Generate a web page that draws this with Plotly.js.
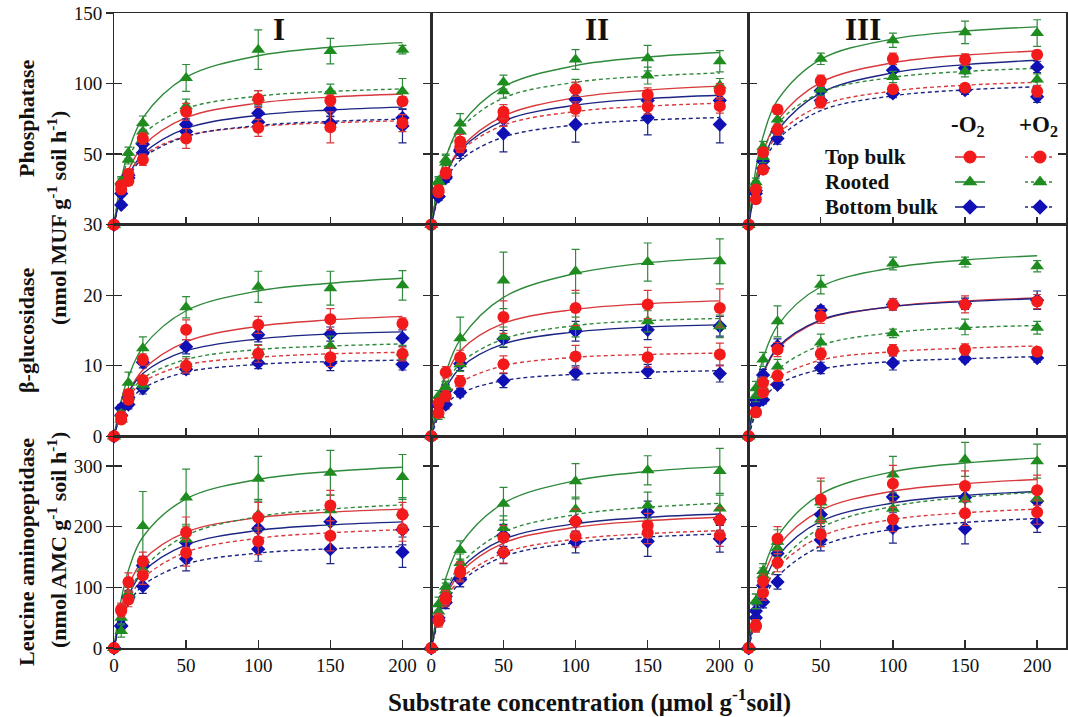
<!DOCTYPE html>
<html>
<head>
<meta charset="utf-8">
<script src="https://cdn.plot.ly/plotly-3.0.1.min.js"></script>
<style>
  html, body { margin: 0; padding: 0; background: #fff; }
  #chart { width: 1068px; height: 717px; }
</style>
</head>
<body>
<div id="chart"></div>
<script>
// Substrate concentrations (µmol g-1 soil)
const conc = [0, 5, 10, 20, 50, 100, 150, 200];
const sites = ['I', 'II', 'III'];
const groups = ['Top bulk', 'Rooted', 'Bottom bulk'];
const treatments = ['-O2', '+O2'];
const xTicks = [0, 50, 100, 150, 200];
const yTicksPho = [0, 50, 100, 150];
const yTicksGlu = [0, 10, 20, 30];
const yTicksLeu = [0, 100, 200, 300];

// Row order in every block: Top bulk -O2, Rooted -O2, Bottom bulk -O2,
//                           Top bulk +O2, Rooted +O2, Bottom bulk +O2

// ---- Phosphatase, site I ----
const phoI_mean = [
  [0, 28, 36, 61, 80, 89, 88, 87.5],
  [0, 31, 51, 72, 104, 124, 123, 124],
  [0, 14, 35, 57, 71, 79, 81.6, 75.7],
  [0, 25, 31, 46, 61, 68.6, 69, 72],
  [0, 30, 46, 66, 84, 90, 94.6, 94.6],
  [0, 22, 33, 51, 66, 72.6, 72, 70]
];
const phoI_sd = [
  [0, 3, 3, 4, 6, 6, 4, 3],
  [0, 3, 4, 5, 9.5, 14, 9, 3],
  [0, 2, 3, 4, 4, 5, 5, 6],
  [0, 3, 3, 4, 7, 6, 11, 6],
  [0, 3, 3, 4, 5, 5, 5, 9],
  [0, 2, 3, 3, 5, 6, 5, 12]
];
const phoI_fit = [
  [0, 23.8, 38.5, 55.6, 75.8, 86.2, 90.4, 92.6],
  [0, 31.8, 51.9, 75.7, 104.5, 119.7, 125.7, 129.0],
  [0, 21.4, 34.6, 50.0, 68.2, 77.6, 81.3, 83.3],
  [0, 22.9, 35.5, 48.8, 62.9, 69.6, 72.2, 73.6],
  [0, 30.0, 46.4, 63.8, 82.3, 91.1, 94.4, 96.2],
  [0, 21.1, 33.3, 47.1, 62.5, 70.2, 73.2, 74.8]
];

// ---- Phosphatase, site II ----
const phoII_mean = [
  [0, 24.5, 37, 59, 80, 96, 92, 95],
  [0, 30, 44, 71.7, 101, 117, 118, 115.8],
  [0, 20, 34, 53, 75, 88.7, 88, 88],
  [0, 23, 36, 55, 75.7, 82, 83.5, 84],
  [0, 31, 46, 66, 94.6, 97, 105.7, 98.6],
  [0, 20, 33, 52, 64.6, 71, 75.7, 71]
];
const phoII_sd = [
  [0, 3, 3, 5, 5, 5, 5, 5],
  [0, 3, 5, 7, 5, 7, 9, 7.5],
  [0, 2, 3, 4, 5, 5, 5, 5],
  [0, 3, 3, 4, 6, 5, 5, 5],
  [0, 3, 4, 5, 5, 6, 6, 5],
  [0, 3, 3, 5, 13, 12.5, 12, 13]
];
const phoII_fit = [
  [0, 21.6, 36.0, 54.0, 77.0, 90.0, 95.3, 98.2],
  [0, 28.9, 47.5, 70.0, 97.8, 112.7, 118.8, 122.0],
  [0, 21.7, 35.7, 52.6, 73.5, 84.7, 89.3, 91.7],
  [0, 22.1, 35.8, 51.7, 70.5, 80.2, 84.0, 86.1],
  [0, 30.3, 47.9, 67.6, 89.8, 100.9, 105.2, 107.5],
  [0, 19.5, 31.5, 45.6, 62.1, 70.7, 74.1, 75.9]
];

// ---- Phosphatase, site III ----
const phoIII_mean = [
  [0, 25, 51.4, 81.6, 102, 117.5, 117, 120.5],
  [0, 30, 55, 74.5, 117.5, 130.7, 136.3, 135.8],
  [0, 24, 45, 66, 95, 109.4, 111, 111.8],
  [0, 18, 39, 67.5, 86.8, 96, 97, 94.6],
  [0, 28, 48, 70, 95.7, 104.7, 108.7, 102.8],
  [0, 22, 40, 61, 88, 93, 95.3, 90.6]
];
const phoIII_sd = [
  [0, 3, 3, 3, 4, 4, 4, 3],
  [0, 3, 4, 4, 4, 5, 8, 9.4],
  [0, 3, 3, 4, 4, 4, 4, 4],
  [0, 3, 3, 4, 4, 3, 3, 4],
  [0, 3, 4, 4, 4, 4, 4, 4],
  [0, 3, 3, 4, 4, 3, 3, 4]
];
const phoIII_fit = [
  [0, 31.7, 51.2, 73.9, 100.8, 114.7, 120.2, 123.1],
  [0, 39.5, 62.5, 88.2, 117.2, 131.6, 137.2, 140.2],
  [0, 27.6, 45.4, 66.8, 93.4, 107.6, 113.4, 116.5],
  [0, 28.4, 45.0, 63.5, 84.4, 94.7, 98.8, 100.9],
  [0, 32.8, 51.3, 71.5, 93.7, 104.4, 108.6, 110.8],
  [0, 26.3, 42.0, 60.0, 80.8, 91.3, 95.5, 97.7]
];

// ---- β-glucosidase, site I ----
const gluI_mean = [
  [0, 2.8, 6.0, 10.9, 15.1, 15.8, 16.6, 16.0],
  [0, 2.4, 7.6, 12.5, 18.3, 21.2, 21.0, 21.4],
  [0, 4.0, 5.5, 10.5, 12.7, 14.4, 14.5, 13.9],
  [0, 2.4, 5.2, 8.0, 10.0, 11.7, 11.2, 11.7],
  [0, 3.2, 5.6, 7.3, 10.3, 12.0, 12.8, 11.9],
  [0, 3.0, 4.5, 6.8, 9.5, 10.4, 10.4, 10.2]
];
const gluI_sd = [
  [0, 0.6, 0.6, 0.8, 1.4, 1.2, 1.5, 0.8],
  [0, 0.6, 1.5, 1.6, 1.5, 2.2, 2.4, 2.1],
  [0, 0.5, 0.6, 0.8, 1.0, 1.0, 1.0, 1.2],
  [0, 0.5, 0.6, 0.6, 1.0, 1.2, 1.3, 1.0],
  [0, 0.5, 0.6, 0.6, 1.0, 1.0, 1.4, 1.0],
  [0, 0.5, 0.6, 0.8, 0.7, 0.8, 1.1, 0.8]
];
const gluI_fit = [
  [0, 3.7, 6.2, 9.4, 13.4, 15.6, 16.5, 17.0],
  [0, 5.1, 8.4, 12.6, 17.8, 20.6, 21.7, 22.4],
  [0, 3.8, 6.2, 8.9, 12.1, 13.8, 14.5, 14.8],
  [0, 3.5, 5.5, 7.7, 10.1, 11.2, 11.7, 11.9],
  [0, 3.7, 5.8, 8.2, 10.9, 12.3, 12.8, 13.1],
  [0, 3.1, 4.8, 6.8, 9.1, 10.2, 10.6, 10.8]
];

// ---- β-glucosidase, site II ----
const gluII_mean = [
  [0, 4.7, 9.1, 11.2, 16.9, 18.2, 18.7, 18.2],
  [0, 5.7, 6.8, 13.9, 22.1, 23.4, 24.7, 24.8],
  [0, 4.3, 6.5, 10.3, 13.8, 14.9, 15.1, 15.6],
  [0, 3.3, 5.7, 7.8, 10.2, 11.3, 11.2, 11.6],
  [0, 3.0, 7.0, 10.2, 14.1, 15.5, 16.3, 15.6],
  [0, 4.5, 4.5, 6.2, 7.9, 9.0, 9.2, 8.9]
];
const gluII_sd = [
  [0, 0.6, 0.8, 1.0, 2.3, 2.5, 2.0, 2.7],
  [0, 0.8, 1.0, 3.0, 4.0, 3.1, 2.7, 3.2],
  [0, 0.6, 0.8, 1.0, 1.2, 1.4, 1.4, 1.4],
  [0, 0.6, 0.8, 0.8, 1.2, 1.6, 1.4, 1.6],
  [0, 0.6, 0.8, 1.0, 1.4, 1.4, 1.5, 1.6],
  [0, 0.6, 0.6, 0.6, 1.0, 1.0, 1.0, 1.2]
];
const gluII_fit = [
  [0, 5.4, 8.5, 12.1, 16.0, 18.0, 18.8, 19.2],
  [0, 5.4, 9.0, 13.7, 19.7, 23.1, 24.6, 25.3],
  [0, 4.3, 6.8, 9.7, 13.1, 14.8, 15.5, 15.8],
  [0, 3.5, 5.5, 7.6, 10.0, 11.2, 11.6, 11.8],
  [0, 4.5, 7.2, 10.3, 13.8, 15.7, 16.4, 16.7],
  [0, 2.9, 4.5, 6.1, 7.9, 8.8, 9.1, 9.3]
];

// ---- β-glucosidase, site III ----
const gluIII_mean = [
  [0, 3.4, 7.6, 12.3, 17.0, 18.7, 18.7, 19.1],
  [0, 6.8, 10.9, 16.3, 21.5, 24.5, 24.7, 24.1],
  [0, 5.2, 8.7, 12.8, 17.9, 18.7, 18.8, 19.3],
  [0, 3.4, 6.2, 8.6, 11.7, 12.2, 12.3, 12.0],
  [0, 5.7, 6.8, 9.9, 13.3, 14.6, 15.5, 15.4],
  [0, 4.5, 5.2, 7.3, 9.7, 10.4, 11.0, 11.1]
];
const gluIII_sd = [
  [0, 0.6, 0.8, 1.0, 1.0, 0.8, 1.2, 1.0],
  [0, 1.0, 1.0, 2.2, 1.3, 0.9, 0.7, 0.8],
  [0, 0.6, 0.8, 1.0, 0.6, 0.8, 0.8, 1.3],
  [0, 0.6, 0.6, 0.8, 0.8, 0.8, 0.8, 0.6],
  [0, 0.8, 0.8, 1.0, 1.2, 0.6, 1.1, 0.9],
  [0, 0.5, 0.6, 0.5, 0.8, 1.0, 0.5, 0.6]
];
const gluIII_fit = [
  [0, 5.5, 8.8, 12.4, 16.4, 18.4, 19.2, 19.6],
  [0, 6.9, 11.0, 15.7, 21.2, 23.9, 25.0, 25.6],
  [0, 5.8, 9.0, 12.6, 16.5, 18.4, 19.1, 19.5],
  [0, 3.8, 5.9, 8.2, 10.8, 12.0, 12.5, 12.8],
  [0, 4.0, 6.5, 9.4, 12.9, 14.7, 15.4, 15.7],
  [0, 3.3, 5.2, 7.3, 9.5, 10.6, 11.0, 11.3]
];

// ---- Leucine aminopeptidase, site I ----
const leuI_mean = [
  [0, 61, 109, 143, 191, 215, 235, 220],
  [0, 28, 90, 201, 248, 279, 289, 282],
  [0, 37, 85, 136, 174, 197, 208, 195],
  [0, 64, 80, 120, 157, 176, 185, 196],
  [0, 50, 88, 130, 179, 220, 227, 223],
  [0, 36, 83, 102, 147, 163, 163, 158]
];
const leuI_sd = [
  [0, 10, 15, 15, 25, 25, 25, 20],
  [0, 10, 15, 57, 47, 37, 37, 37],
  [0, 8, 10, 15, 20, 20, 20, 25],
  [0, 10, 12, 15, 22, 22, 25, 20],
  [0, 10, 12, 15, 25, 25, 25, 25],
  [0, 8, 10, 12, 20, 20, 24, 25]
];
const leuI_fit = [
  [0, 64.5, 102, 144, 191, 215, 224, 229],
  [0, 80, 128, 183, 246, 278, 291, 298],
  [0, 53.6, 86.5, 125, 170, 194, 203, 208],
  [0, 48, 78.5, 114.6, 158, 181, 190, 195],
  [0, 52, 86.7, 130, 185.7, 216.7, 229, 236],
  [0, 45, 72, 103, 138.5, 156.5, 163.6, 167.4]
];

// ---- Leucine aminopeptidase, site II ----
const leuII_mean = [
  [0, 44.5, 83, 127, 182, 209, 202, 211],
  [0, 72, 101, 161.5, 238, 275, 293, 292],
  [0, 50, 85, 113, 185.7, 209, 224, 212],
  [0, 47, 80, 124, 158, 184.6, 190, 185.7],
  [0, 60, 95, 140, 198, 228.6, 235, 230],
  [0, 45, 75, 113, 157, 174.7, 176, 180]
];
const leuII_sd = [
  [0, 10, 12, 15, 20, 20, 20, 20],
  [0, 12, 12, 15, 27, 29, 24, 37],
  [0, 8, 10, 12, 18, 18, 18, 18],
  [0, 10, 12, 15, 18, 18, 18, 18],
  [0, 12, 12, 15, 20, 20, 22, 22],
  [0, 8, 10, 12, 18, 18, 25, 22]
];
const leuII_fit = [
  [0, 51, 84, 123.7, 172.8, 199, 209.8, 215.6],
  [0, 69, 115, 170, 238.7, 276, 291, 299],
  [0, 54.5, 89, 129.7, 179, 205, 215.6, 221],
  [0, 47.7, 77.8, 113.5, 156.7, 179.5, 188.6, 193.5],
  [0, 56.5, 93, 137, 191, 220, 232, 238.5],
  [0, 44.6, 73, 108, 150.7, 173.7, 183, 188]
];

// ---- Leucine aminopeptidase, site III ----
const leuIII_mean = [
  [0, 37, 110, 180, 245, 271, 267, 260],
  [0, 77, 127, 175, 240, 286, 311, 308],
  [0, 61, 103, 156, 220, 249, 248, 242],
  [0, 36, 91, 140.7, 187, 212, 222, 224],
  [0, 77, 120, 165, 212, 229.7, 245, 246],
  [0, 50, 76, 109, 178, 198, 196.7, 206.6]
];
const leuIII_sd = [
  [0, 10, 12, 20, 35, 30, 25, 25],
  [0, 12, 12, 20, 35, 30, 28, 28],
  [0, 10, 12, 15, 20, 20, 20, 20],
  [0, 10, 12, 15, 20, 20, 20, 20],
  [0, 12, 12, 15, 20, 20, 20, 20],
  [0, 8, 10, 12, 18, 25, 25, 16]
];
const leuIII_fit = [
  [0, 71.4, 115, 166.7, 227, 258.6, 271, 277.8],
  [0, 77, 126, 183.8, 253.7, 290.6, 305, 313],
  [0, 63.6, 104, 151, 209, 239, 251.5, 258],
  [0, 54, 89, 131.6, 184, 212, 223, 229],
  [0, 52.8, 89, 135.7, 198, 233.6, 248.5, 256.8],
  [0, 47, 78.3, 117.5, 167.9, 195.8, 207, 213.6]
];

// ---------------- styling ----------------
const SERIF = '"Liberation Serif", "Times New Roman", serif';
const markerColor = ['#f21a1a', '#1f8c1f', '#1010b4'];
const lineColor   = ['#d8393c', '#2f8a3c', '#1c2484'];
const symbols     = ['circle', 'triangle-up', 'diamond'];
const msize       = [12, 12, 11];
const AXIS_LINE = '#2b2b2b';

// figure geometry (pixels) used to place the text elements
const W = 1068, H = 717, ML = 114, MR = 2, MT = 13, MB = 69;
const PW = W - ML - MR, PH = H - MT - MB;
const px = v => (v - ML) / PW;
const py = v => (H - MB - v) / PH;

const rowsData = [
  { mean: [phoI_mean, phoII_mean, phoIII_mean], sd: [phoI_sd, phoII_sd, phoIII_sd], fit: [phoI_fit, phoII_fit, phoIII_fit], range: [0, 150], ticks: yTicksPho, labels: ['', '50', '100', '150'] },
  { mean: [gluI_mean, gluII_mean, gluIII_mean], sd: [gluI_sd, gluII_sd, gluIII_sd], fit: [gluI_fit, gluII_fit, gluIII_fit], range: [0, 30], ticks: yTicksGlu, labels: ['0', '10', '20', '30'] },
  { mean: [leuI_mean, leuII_mean, leuIII_mean], sd: [leuI_sd, leuII_sd, leuIII_sd], fit: [leuI_fit, leuII_fit, leuIII_fit], range: [0, 349], ticks: yTicksLeu, labels: ['0', '100', '200', '300'] }
];

const traces = [];
const layout = {
  width: W, height: H,
  margin: { l: ML, r: MR, t: MT, b: MB },
  paper_bgcolor: '#fff', plot_bgcolor: 'rgba(0,0,0,0)',
  showlegend: false,
  font: { family: SERIF, color: '#111', size: 18 },
  annotations: []
};

const rowDomains = [[2 / 3, 1], [1 / 3, 2 / 3], [0, 1 / 3]];
const colDomains = [[0, 1 / 3], [1 / 3, 2 / 3], [2 / 3, 1]];

for (let r = 0; r < 3; r++) {
  for (let c = 0; c < 3; c++) {
    const n = r * 3 + c + 1;
    const xs = n === 1 ? '' : String(n);
    const xa = 'x' + xs, ya = 'y' + xs;
    layout['xaxis' + xs] = {
      domain: colDomains[c], range: [0, 220], anchor: ya,
      showline: true, mirror: true, linecolor: AXIS_LINE, linewidth: 1.5,
      ticks: 'inside', ticklen: 8, tickwidth: 1.3, tickcolor: AXIS_LINE,
      tickvals: xTicks, ticktext: xTicks.map(String),
      showticklabels: r === 2, tickfont: { family: SERIF, size: 19, color: '#111' },
      showgrid: false, zeroline: false
    };
    layout['yaxis' + xs] = {
      domain: rowDomains[r], range: rowsData[r].range, anchor: xa,
      showline: true, mirror: 'ticks', linecolor: AXIS_LINE, linewidth: 1.5,
      ticks: 'inside', ticklen: 8, tickwidth: 1.3, tickcolor: AXIS_LINE,
      tickvals: rowsData[r].ticks, showticklabels: false,
      showgrid: false, zeroline: false
    };

    const mean = rowsData[r].mean[c], sd = rowsData[r].sd[c], fit = rowsData[r].fit[c];
    // fitted curves
    for (let s = 0; s < 6; s++) {
      const g = s % 3, oxic = s >= 3;
      traces.push({
        x: conc, y: fit[s], xaxis: xa, yaxis: ya, mode: 'lines',
        line: { shape: 'spline', smoothing: 1, color: lineColor[g], width: 1.4, dash: oxic ? '4px,3px' : 'solid' },
        hoverinfo: 'skip', cliponaxis: false
      });
    }
    // measured rates with error bars (blue, green, then red on top)
    for (const g of [2, 1, 0]) {
      for (const oxic of [1, 0]) {
        const s = g + oxic * 3;
        traces.push({
          x: conc, y: mean[s], xaxis: xa, yaxis: ya, mode: 'markers',
          name: groups[g] + ' ' + treatments[oxic] + ' (' + sites[c] + ')',
          marker: { symbol: symbols[g], size: msize[g], color: markerColor[g], line: { width: 0 } },
          error_y: { type: 'data', array: sd[s], visible: true, color: lineColor[g], thickness: 1.2, width: 4 },
          cliponaxis: false
        });
      }
    }
  }
  // labelled outer axis for the left column
  const on = 10 + r;
  const base = r * 3 + 1;
  const bs = base === 1 ? '' : String(base);
  layout['yaxis' + on] = {
    overlaying: 'y' + bs, anchor: 'x' + bs, side: 'left',
    range: rowsData[r].range, tickvals: rowsData[r].ticks, ticktext: rowsData[r].labels,
    ticks: 'outside', ticklen: 7, tickwidth: 1.3, tickcolor: AXIS_LINE,
    showline: false, showgrid: false, zeroline: false,
    tickfont: { family: SERIF, size: 19, color: '#111' }
  };
  traces.push({ x: [], y: [], xaxis: 'x' + bs, yaxis: 'y' + on, mode: 'markers', hoverinfo: 'skip' });
}

// Pixel-scaled frame over the plotting area for the key glyphs
layout.xaxis13 = { domain: [0, 1], range: [ML, W - MR], anchor: 'y13', visible: false, fixedrange: true };
layout.yaxis13 = { domain: [0, 1], range: [H - MB, MT], anchor: 'x13', visible: false, fixedrange: true };

function label(x, y, text, font, extra) {
  return Object.assign({
    xref: 'paper', yref: 'paper', x: px(x), y: py(y), text: text, showarrow: false,
    xanchor: 'center', yanchor: 'middle', font: font
  }, extra || {});
}

const keyFont = { family: SERIF, size: 21, color: '#111', weight: 'bold' };
const keyRowsY = [157, 182, 207];
const keyLineX = [[955, 985], [1025, 1055]];
const keyTextX = 823;
for (let g = 0; g < 3; g++) {
  for (let t = 0; t < 2; t++) {
    const [x0, x1] = keyLineX[t];
    traces.push({
      x: [x0, x1], y: [keyRowsY[g], keyRowsY[g]], xaxis: 'x13', yaxis: 'y13', mode: 'lines',
      line: { color: lineColor[g], width: 1.6, dash: t ? '3px,3px' : 'solid' }, hoverinfo: 'skip', cliponaxis: false
    });
    traces.push({
      x: [(x0 + x1) / 2], y: [keyRowsY[g]], xaxis: 'x13', yaxis: 'y13', mode: 'markers',
      marker: { symbol: symbols[g], size: msize[g] + 1, color: markerColor[g] }, hoverinfo: 'skip', cliponaxis: false
    });
  }
  layout.annotations.push(label(keyTextX, keyRowsY[g], groups[g], keyFont, { xanchor: 'left' }));
}
const o2Font = { family: SERIF, size: 23, color: '#111', weight: 'bold' };
layout.annotations.push(label(968, 126, '-O<sub>2</sub>', o2Font), label(1038, 126, '+O<sub>2</sub>', o2Font));

// Site labels
const siteLabelX = [279, 597, 863];
const siteFont = { family: SERIF, size: 31, color: '#111', weight: 'bold' };
sites.forEach((s, i) => layout.annotations.push(label(siteLabelX[i], 29, s, siteFont)));

// Axis titles
const titleFont = { family: SERIF, size: 22, color: '#111', weight: 'bold' };
[
  { x: 26, y: 118, t: 'Phosphatase' },
  { x: 57, y: 218, t: '(nmol MUF g<sup>-1</sup> soil h<sup>-1</sup>)' },
  { x: 26, y: 330, t: 'β-glucosidase' },
  { x: 26, y: 552, t: 'Leucine aminopeptidase' },
  { x: 57, y: 540, t: '(nmol AMC g<sup>-1</sup> soil h<sup>-1</sup>)' }
].forEach(a => layout.annotations.push(label(a.x, a.y, a.t, titleFont, { textangle: -90 })));
layout.annotations.push(label(589, 700, 'Substrate concentration (μmol g<sup>-1</sup>soil)',
  { family: SERIF, size: 25, color: '#111', weight: 'bold' }));

Plotly.newPlot('chart', traces, layout, { displayModeBar: false, staticPlot: true });
</script>
</body>
</html>
